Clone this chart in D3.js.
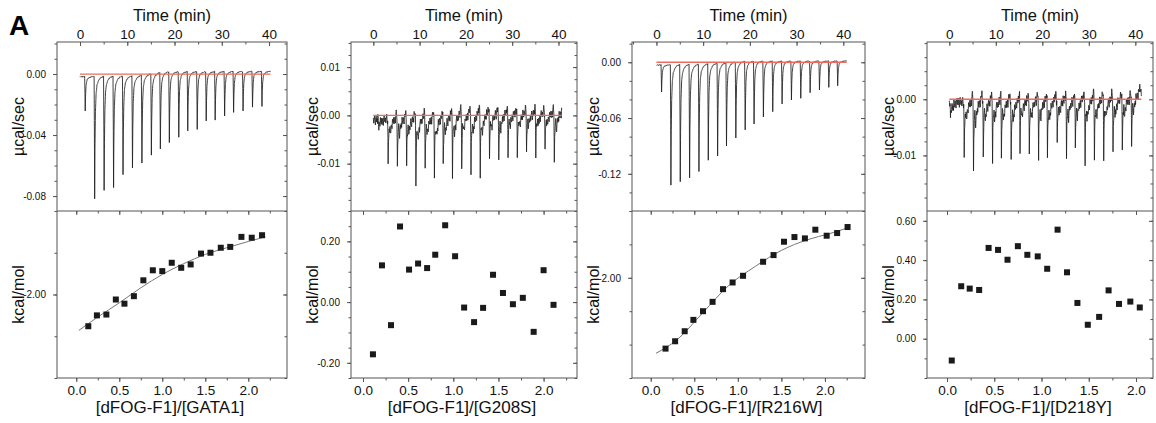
<!DOCTYPE html>
<html>
<head>
<meta charset="utf-8">
<script src="https://cdn.jsdelivr.net/npm/d3@7"></script>
<style>
  body { margin: 0; background: #fff; }
  svg { display: block; font-family: "Liberation Sans", Arial, Helvetica, sans-serif; }
</style>
</head>
<body>
<svg id="chart" width="1156" height="423"></svg>
<script>
// ---- values ----
const titrations = ["[dFOG-F1]/[GATA1]", "[dFOG-F1]/[G208S]", "[dFOG-F1]/[R216W]", "[dFOG-F1]/[D218Y]"];

// integrated heats: molar ratio vs kcal/mol
const ratioGATA1 = [0.14, 0.24, 0.35, 0.46, 0.56, 0.67, 0.78, 0.89, 1.00, 1.11, 1.22, 1.33, 1.45, 1.56, 1.68, 1.79, 1.92, 2.04, 2.16];
const heatGATA1  = [-2.38, -2.25, -2.24, -2.06, -2.11, -2.02, -1.83, -1.71, -1.72, -1.62, -1.68, -1.64, -1.51, -1.50, -1.44, -1.43, -1.31, -1.32, -1.29];
const ratioG208S = [0.11, 0.21, 0.31, 0.41, 0.51, 0.61, 0.71, 0.80, 0.91, 1.02, 1.12, 1.23, 1.33, 1.44, 1.55, 1.66, 1.77, 1.89, 2.00, 2.11];
const heatG208S  = [-0.172, 0.121, -0.076, 0.249, 0.107, 0.127, 0.112, 0.156, 0.253, 0.151, -0.018, -0.066, -0.019, 0.090, 0.030, -0.007, 0.014, -0.098, 0.105, -0.009];
const ratioR216W = [0.17, 0.28, 0.39, 0.49, 0.60, 0.71, 0.83, 0.94, 1.06, 1.29, 1.41, 1.53, 1.65, 1.77, 1.89, 2.02, 2.14, 2.26];
const heatR216W  = [-3.06, -2.95, -2.80, -2.63, -2.50, -2.36, -2.17, -2.07, -1.97, -1.76, -1.66, -1.46, -1.39, -1.41, -1.28, -1.37, -1.33, -1.24];
const ratioD218Y = [0.05, 0.15, 0.24, 0.34, 0.44, 0.54, 0.64, 0.75, 0.85, 0.96, 1.06, 1.17, 1.27, 1.38, 1.49, 1.61, 1.71, 1.82, 1.94, 2.04];
const heatD218Y  = [-0.111, 0.267, 0.255, 0.248, 0.462, 0.452, 0.402, 0.471, 0.427, 0.419, 0.356, 0.555, 0.338, 0.182, 0.071, 0.111, 0.246, 0.177, 0.189, 0.159];

// fitted binding curves
const fitRatioGATA1 = [0.03, 0.25, 0.5, 0.75, 1.0, 1.25, 1.5, 1.75, 2.0, 2.2];
const fitHeatGATA1  = [-2.43, -2.27, -2.10, -1.92, -1.76, -1.63, -1.52, -1.44, -1.365, -1.31];
const fitRatioR216W = [0.06, 0.3, 0.6, 0.9, 1.2, 1.5, 1.8, 2.05, 2.27];
const fitHeatR216W  = [-3.13, -2.93, -2.52, -2.11, -1.83, -1.59, -1.43, -1.34, -1.25];

// raw thermograms: injection times (min) and peak depths (µcal/sec)
const injGATA1  = [1.1, 3.1, 5.1, 7.1, 9.1, 11.1, 13.1, 15.1, 17.0, 18.9, 20.9, 22.8, 24.8, 26.7, 28.6, 30.6, 32.5, 34.5, 36.5, 38.5];
const peakGATA1 = [0.0224, 0.080, 0.0746, 0.0728, 0.0648, 0.0604, 0.0576, 0.0535, 0.0502, 0.0467, 0.043, 0.0387, 0.038, 0.0326, 0.0317, 0.0289, 0.0267, 0.0261, 0.0235, 0.023];
const injG208S  = [1.2, 3.2, 5.2, 7.2, 9.2, 11.2, 13.2, 15.1, 17.1, 19.1, 21.1, 23.1, 25.1, 27.1, 29.1, 31.1, 33.1, 35.1, 37.1, 39.1];
const peakG208S = [0.002, 0.0098, 0.0101, 0.0098, 0.0137, 0.0101, 0.0122, 0.0103, 0.0119, 0.0112, 0.0131, 0.0132, 0.0096, 0.0105, 0.0086, 0.0094, 0.0084, 0.0086, 0.0079, 0.0101];
const injR216W  = [1.1, 3.1, 5.1, 7.1, 9.1, 11.1, 13.1, 15.0, 17.0, 19.0, 20.9, 22.9, 24.9, 26.9, 28.9, 30.9, 32.9, 34.9, 36.9, 38.8];
const peakR216W = [0.029, 0.1293, 0.1258, 0.1218, 0.1157, 0.1039, 0.0996, 0.0896, 0.0817, 0.0734, 0.0677, 0.0602, 0.0541, 0.0462, 0.0419, 0.0398, 0.0344, 0.0315, 0.0283, 0.0269];
const injD218Y  = [0.25, 3.2, 5.2, 7.3, 9.3, 11.2, 13.3, 15.2, 17.2, 19.2, 21.1, 23.2, 25.2, 27.1, 29.2, 31.2, 33.2, 35.2, 37.2, 39.2];
const peakD218Y = [0.0034, 0.0104, 0.0126, 0.0101, 0.0107, 0.0104, 0.0111, 0.0090, 0.0102, 0.0105, 0.0111, 0.0083, 0.0101, 0.0098, 0.0114, 0.0104, 0.0104, 0.0098, 0.0093, 0.0083];

// baseline drift of each thermogram (time, µcal/sec)
const baseTGATA1 = [0, 12, 18, 41],   baseVGATA1 = [-0.0018, -0.0012, 0.0015, 0.0018];
const baseTG208S = [0, 15, 20, 41],   baseVG208S = [-0.0009, -0.0006, 0.0003, 0.0004];
const baseTR216W = [0, 10, 20, 41],   baseVR216W = [-0.003, -0.002, 0.0012, 0.0015];
const baseTD218Y = [0, 20, 39, 41.3], baseVD218Y = [-0.0006, -0.0002, 0.0, 0.0014];

// peak shape of one injection (min from peak, fraction of depth)
const sharpDt = [-0.12, -0.05, 0, 0.07, 0.16, 0.3, 0.5, 0.85, 1.3, 1.85];
const sharpF  = [0, 0.5, 1, 0.58, 0.3, 0.14, 0.07, 0.03, 0.01, 0];
const noisyDt = [-0.1, -0.04, 0, 0.07, 0.17, 0.3, 0.45, 0.62, 0.85, 1.15, 1.5, 1.8, 1.95];
const noisyF  = [0, 0.45, 1, 0.5, 0.25, 0.18, 0.3, 0.2, 0.1, 0.04, 0, -0.12, 0];
// detector wiggle pattern
const wiggle = [0.3, -0.6, 0.1, 0.8, -0.2, -0.9, 0.4, 0.6, -0.4, 0.2, -0.7, 0.9, -0.1, -0.5, 0.5, 0.0, -0.8, 0.7, 0.2, -0.3, 0.6, -0.6, 0.1, 0.4, -0.9, 0.3, 0.8, -0.2, -0.4, 0.5];

// tick labels
const timeTicks  = [0, 10, 20, 30, 40];
const ratioTicks = [0, 0.5, 1, 1.5, 2];
const rawTicksGATA1 = [-0.08, -0.04, 0], rawTicksG208S = [-0.01, 0, 0.01], rawTicksR216W = [-0.12, -0.06, 0], rawTicksD218Y = [-0.01, 0];
const heatTicksGATA1 = [-2], heatTicksG208S = [-0.2, 0, 0.2], heatTicksR216W = [-2], heatTicksD218Y = [0, 0.2, 0.4, 0.6];

// ---- layout ----
const TOP = 42, MID = 211, BOT = 378;
const axisColor = "#555", textColor = "#111";
const svg = d3.select("#chart");
const loc = d3.formatLocale({decimal: ".", thousands: ",", grouping: [3], currency: ["", ""], minus: "-"});
const f2 = loc.format(".2f"), f1 = loc.format(".1f"), f0 = loc.format("d");

const panels = [
  {x0: 57, x1: 287, time: [-4.87, 43.8], raw: [-0.0898, 0.021], ratio: [-0.224, 2.45], heat: [-3, -1],
   rawMajor: rawTicksGATA1, rawMinor: 0.01, heatMajor: heatTicksGATA1, heatMinor: 0.5,
   inj: injGATA1, peak: peakGATA1, dt: sharpDt, f: sharpF, baseT: baseTGATA1, baseV: baseVGATA1, noise: 0.0004, tEnd: 40.3,
   rx: ratioGATA1, hy: heatGATA1, fitX: fitRatioGATA1, fitY: fitHeatGATA1, title: titrations[0]},
  {x0: 351, x1: 577, time: [-4.82, 44.0], raw: [-0.0198, 0.0152], ratio: [-0.133, 2.37], heat: [-0.25, 0.30],
   rawMajor: rawTicksG208S, rawMinor: 0.0025, heatMajor: heatTicksG208S, heatMinor: 0.05,
   inj: injG208S, peak: peakG208S, dt: noisyDt, f: noisyF, baseT: baseTG208S, baseV: baseVG208S, noise: 0.0012, tEnd: 40.7,
   rx: ratioG208S, hy: heatG208S, fitX: null, fitY: null, title: titrations[1]},
  {x0: 632, x1: 865, time: [-5.23, 44.65], raw: [-0.16, 0.0218], ratio: [-0.215, 2.46], heat: [-3.5, -1],
   rawMajor: rawTicksR216W, rawMinor: 0.02, heatMajor: heatTicksR216W, heatMinor: 0.5,
   inj: injR216W, peak: peakR216W, dt: sharpDt, f: sharpF, baseT: baseTR216W, baseV: baseVR216W, noise: 0.0006, tEnd: 40.7,
   rx: ratioR216W, hy: heatR216W, fitX: fitRatioR216W, fitY: fitHeatR216W, title: titrations[2]},
  {x0: 927, x1: 1153, time: [-4.8, 43.8], raw: [-0.0199, 0.0102], ratio: [-0.212, 2.18], heat: [-0.2, 0.65],
   rawMajor: rawTicksD218Y, rawMinor: 0.0025, heatMajor: heatTicksD218Y, heatMinor: 0.1,
   inj: injD218Y, peak: peakD218Y, dt: noisyDt, f: noisyF, baseT: baseTD218Y, baseV: baseVD218Y, noise: 0.0011, tEnd: 41.3,
   rx: ratioD218Y, hy: heatD218Y, fitX: null, fitY: null, title: titrations[3]}
];

function minorTicks(domain, step) {
  const out = [];
  for (let k = Math.ceil(domain[0] / step - 1e-9); k * step <= domain[1] + 1e-9; k++) out.push(+(k * step).toFixed(6));
  return out;
}

function axis(gen, scale, values, size, format, pad, fs, tx, ty) {
  const a = gen(scale).tickValues(values).tickSizeInner(size).tickSizeOuter(0).tickPadding(pad)
    .tickFormat(format || (() => ""));
  const g = svg.append("g").attr("transform", `translate(${tx},${ty})`).call(a);
  g.select(".domain").remove();
  g.attr("font-family", null).attr("font-size", fs);
  g.selectAll("line").attr("stroke", axisColor);
  g.selectAll("text").attr("fill", textColor);
  return g;
}

function thermogram(p) {
  const shape = d3.scaleLinear().domain(p.dt).range(p.f);
  const lo = p.dt[0], hi = p.dt[p.dt.length - 1];
  const base = d3.scaleLinear().domain(p.baseT).range(p.baseV).clamp(true);
  const wig = d3.scaleLinear().domain(d3.range(wiggle.length)).range(wiggle);
  let ts = d3.range(0, p.tEnd, 0.03);
  p.inj.forEach(t0 => p.dt.forEach(d => { const t = t0 + d; if (t >= 0 && t <= p.tEnd) ts.push(t); }));
  ts.push(p.tEnd);
  ts = Array.from(new Set(ts.map(t => +t.toFixed(4)))).sort((a, b) => a - b);
  return ts.map(t => {
    let v = base(t) + p.noise * wig((t / 0.09) % (wiggle.length - 1));
    p.inj.forEach((t0, i) => { const d = t - t0; if (d > lo && d < hi) v -= p.peak[i] * shape(d); });
    return [t, v];
  });
}

panels.forEach(p => {
  const xt = d3.scaleLinear().domain(p.time).range([p.x0, p.x1]);
  const yr = d3.scaleLinear().domain(p.raw).range([MID, TOP]);
  const xr = d3.scaleLinear().domain(p.ratio).range([p.x0, p.x1]);
  const yh = d3.scaleLinear().domain(p.heat).range([BOT, MID]);
  const cx = (p.x0 + p.x1) / 2;

  // boxes
  svg.append("rect").attr("x", p.x0).attr("y", TOP).attr("width", p.x1 - p.x0).attr("height", BOT - TOP)
    .attr("fill", "none").attr("stroke", axisColor).attr("stroke-width", 1);
  svg.append("line").attr("x1", p.x0).attr("x2", p.x1).attr("y1", MID).attr("y2", MID)
    .attr("stroke", axisColor).attr("stroke-width", 1);

  // raw thermogram
  const trace = thermogram(p);
  svg.append("path").datum(trace)
    .attr("d", d3.line().x(d => xt(d[0])).y(d => yr(d[1])))
    .attr("fill", "none").attr("stroke", "#1e1e1e").attr("stroke-width", 0.85).attr("stroke-linejoin", "round");
  svg.append("line").attr("x1", xt(0)).attr("x2", xt(p.tEnd)).attr("y1", yr(0)).attr("y2", yr(0))
    .attr("stroke", "#f06a5e").attr("stroke-width", 1.3);

  // fitted curve
  if (p.fitX) {
    const fit = p.fitX.map((x, i) => [x, p.fitY[i]]);
    svg.append("path").datum(fit)
      .attr("d", d3.line().x(d => xr(d[0])).y(d => yh(d[1])).curve(d3.curveMonotoneX))
      .attr("fill", "none").attr("stroke", "#777").attr("stroke-width", 1);
  }
  // integrated heats
  svg.append("g").selectAll("rect").data(p.rx.map((x, i) => [x, p.hy[i]])).join("rect")
    .attr("x", d => xr(d[0]) - 3).attr("y", d => yh(d[1]) - 3)
    .attr("width", 6).attr("height", 6).attr("fill", "#1a1a1a");

  // time axis (top, ticks inward)
  axis(d3.axisTop, xt, timeTicks, -4, f0, 3, 13.5, 0, TOP);
  axis(d3.axisTop, xt, minorTicks(p.time, 5), -2.5, null, 3, 13.5, 0, TOP);
  // raw y axis
  axis(d3.axisLeft, yr, p.rawMajor, 4, f2, 7, 10, p.x0, 0);
  axis(d3.axisLeft, yr, minorTicks(p.raw, p.rawMinor), 2.5, null, 7, 10, p.x0, 0);
  axis(d3.axisRight, yr, p.rawMajor, -4, null, 0, 10, p.x1, 0);
  axis(d3.axisRight, yr, minorTicks(p.raw, p.rawMinor), -2.5, null, 0, 10, p.x1, 0);
  // heat y axis
  axis(d3.axisLeft, yh, p.heatMajor, 4, f2, 7, 10, p.x0, 0);
  axis(d3.axisLeft, yh, minorTicks(p.heat, p.heatMinor), 2.5, null, 7, 10, p.x0, 0);
  axis(d3.axisRight, yh, p.heatMajor, -4, null, 0, 10, p.x1, 0);
  axis(d3.axisRight, yh, minorTicks(p.heat, p.heatMinor), -2.5, null, 0, 10, p.x1, 0);
  // ratio x axis (bottom) and mirrored ticks on the divider
  axis(d3.axisBottom, xr, ratioTicks, 4, f1, 3.2, 13.5, 0, BOT);
  axis(d3.axisBottom, xr, minorTicks(p.ratio, 0.25), 2.5, null, 3.2, 13.5, 0, BOT);
  axis(d3.axisBottom, xr, ratioTicks, 4, null, 0, 13.5, 0, MID);
  axis(d3.axisBottom, xr, minorTicks(p.ratio, 0.25), 2.5, null, 0, 13.5, 0, MID);

  // titles
  svg.append("text").attr("x", cx).attr("y", 21).attr("text-anchor", "middle")
    .attr("font-size", 16.5).attr("fill", textColor).text("Time (min)");
  svg.append("text").attr("x", cx - 2).attr("y", 413).attr("text-anchor", "middle")
    .attr("font-size", 17).attr("fill", textColor).text(p.title);
  svg.append("text").attr("transform", `translate(${p.x0 - 33},${(TOP + MID) / 2}) rotate(-90)`)
    .attr("text-anchor", "middle").attr("font-size", 16).attr("fill", textColor).text("µcal/sec");
  svg.append("text").attr("transform", `translate(${p.x0 - 33},${(MID + BOT) / 2}) rotate(-90)`)
    .attr("text-anchor", "middle").attr("font-size", 16).attr("fill", textColor).text("kcal/mol");
});

svg.append("text").attr("x", 9).attr("y", 35).attr("font-size", 28).attr("font-weight", "bold")
  .attr("fill", "#000").text("A");
</script>
</body>
</html>
